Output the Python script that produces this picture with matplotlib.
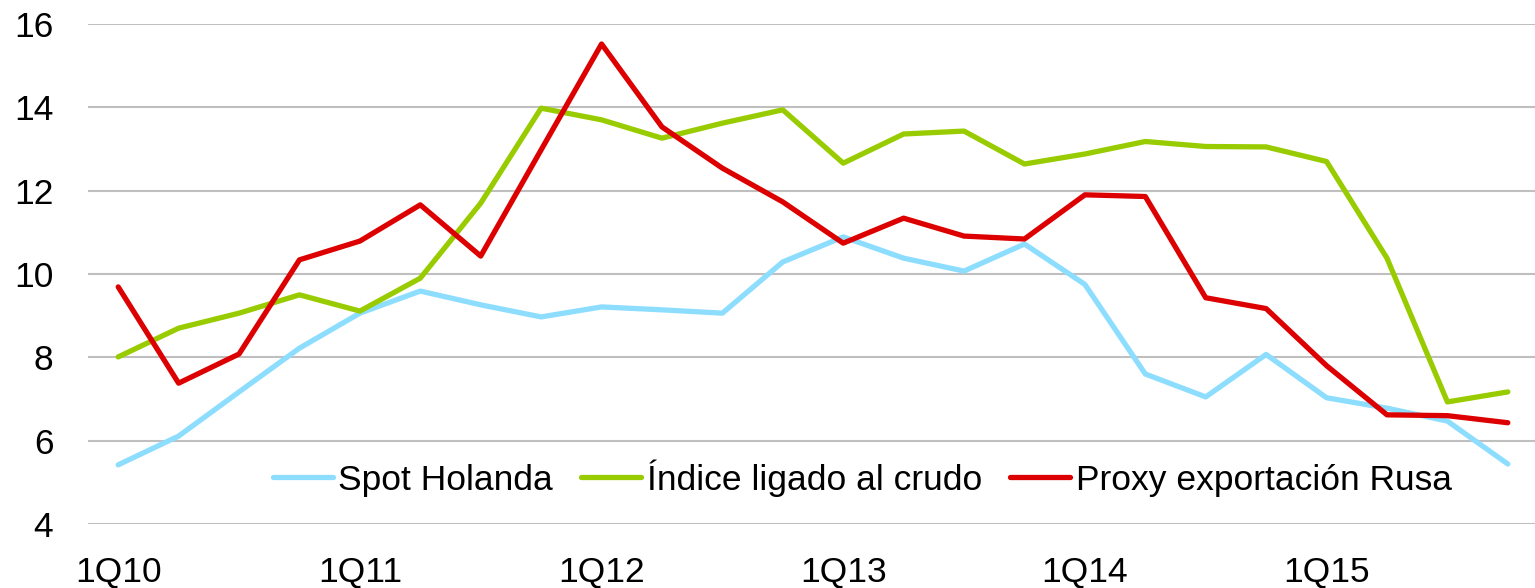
import matplotlib
matplotlib.use("Agg")
import matplotlib.pyplot as plt

quarters = [f"{q}Q{y}" for y in range(10, 16) for q in range(1, 5)]
tick_labels = ["1Q10", "1Q11", "1Q12", "1Q13", "1Q14", "1Q15"]

spot_holanda = [5.42, 6.11, 7.17, 8.22, 9.06, 9.59, 9.26, 8.97, 9.21, 9.14, 9.06, 10.29,
                10.89, 10.38, 10.07, 10.72, 9.75, 7.60, 7.05, 8.07, 7.03, 6.78, 6.47, 5.44]
indice_crudo = [8.01, 8.70, 9.06, 9.50, 9.11, 9.90, 11.70, 13.98, 13.70, 13.26, 13.62, 13.94,
                12.66, 13.36, 13.43, 12.64, 12.88, 13.18, 13.06, 13.05, 12.70, 10.38, 6.93, 7.17]
proxy_rusa = [9.69, 7.38, 8.08, 10.34, 10.79, 11.66, 10.43, 12.98, 15.52, 13.53, 12.54, 11.73,
              10.74, 11.34, 10.91, 10.84, 11.90, 11.86, 9.43, 9.17, 7.80, 6.62, 6.60, 6.43]

plt.rcParams['font.family'] = ['Liberation Sans', 'DejaVu Sans']

fig = plt.figure(figsize=(15.35, 5.88), dpi=100)
ax = fig.add_axes([88/1535, 64/588, (1535-88)/1535, 500/588])

x = list(range(len(quarters)))
ax.plot(x, spot_holanda, color='#8DDDFF', lw=3.8, solid_capstyle='round', label='Spot Holanda', zorder=3)
ax.plot(x, indice_crudo, color='#99CC00', lw=3.8, solid_capstyle='round', label='Índice ligado al crudo', zorder=3)
ax.plot(x, proxy_rusa, color='#DD0000', lw=3.8, solid_capstyle='round', label='Proxy exportación Rusa', zorder=4)

ax.set_xlim(-0.5, 23.45)
ax.set_ylim(4, 16)
ax.set_yticks([4, 6, 8, 10, 12, 14, 16])
ax.set_xticks([quarters.index(t) for t in tick_labels])
ax.set_xticklabels(tick_labels)
ax.yaxis.grid(True, color='#BFBFBF', lw=1.5)
ax.set_axisbelow(True)
for s in ax.spines.values():
    s.set_visible(False)
ax.tick_params(axis='both', length=0, labelsize=25.5)
ax.tick_params(axis='y', pad=25)
ax.tick_params(axis='x', pad=23)

leg = ax.legend(loc='center', bbox_to_anchor=(0.535, 0.092), ncol=3, frameon=False,
                fontsize=25.5, handlelength=1.7, handletextpad=0.15, columnspacing=0.8,
                borderaxespad=0)

fig.savefig("out.png", dpi=100)
